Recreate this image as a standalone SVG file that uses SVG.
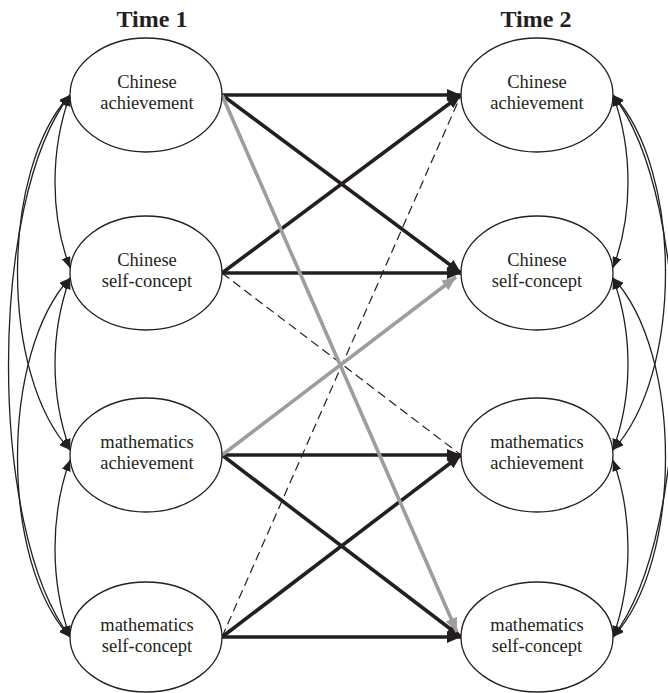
<svg xmlns="http://www.w3.org/2000/svg" width="668" height="693" viewBox="0 0 668 693">
<style>
.bg{fill:#fff}
.node ellipse{fill:#fff;stroke:#231f20;stroke-width:1.3}
.lbl{font-family:"Liberation Serif","Times New Roman",serif;font-size:18.5px;fill:#231f20;text-anchor:middle}
.title{font-family:"Liberation Serif","Times New Roman",serif;font-size:24px;font-weight:bold;fill:#231f20;text-anchor:middle}
.cov{fill:none;stroke:#231f20;stroke-width:1.3;marker-start:url(#ah);marker-end:url(#ah)}
.bold{stroke:#231f20;stroke-width:3.6;marker-end:url(#bh)}
.gray{stroke:#9d9d9d;stroke-width:3.6;marker-end:url(#gh)}
.dash{stroke:#231f20;stroke-width:1.2;stroke-dasharray:9 5}
</style>
<defs>
<marker id="ah" markerUnits="userSpaceOnUse" markerWidth="11" markerHeight="9" refX="11" refY="4.5" orient="auto-start-reverse" viewBox="0 0 11 9"><path d="M0,0 L11,4.5 L0,9 z" fill="#231f20"/></marker>
<marker id="bh" markerUnits="userSpaceOnUse" markerWidth="14" markerHeight="12" refX="14" refY="6" orient="auto" viewBox="0 0 14 12"><path d="M0,0 L14,6 L0,12 z" fill="#231f20"/></marker>
<marker id="gh" markerUnits="userSpaceOnUse" markerWidth="14" markerHeight="12" refX="14" refY="6" orient="auto" viewBox="0 0 14 12"><path d="M0,0 L14,6 L0,12 z" fill="#9d9d9d"/></marker>
</defs>
<rect class="bg" x="0" y="0" width="668" height="693"/>
<text class="title" x="152" y="27">Time 1</text>
<text class="title" x="536" y="27">Time 2</text>
<g id="connectors">
<path class="cov" d="M70,95 C50,150 50,215 70,268"/>
<path class="cov" d="M70,278 C50,333 50,395 70,450"/>
<path class="cov" d="M70,460 C50,515 50,582 70,637"/>
<path class="cov" d="M70,95 C0,170 0,375 70,450"/>
<path class="cov" d="M70,278 C0,353 0,562 70,637"/>
<path class="cov" d="M70,95 C-12,200 -12,530 70,637"/>
<path class="cov" d="M613,95 C633,150 633,215 613,268"/>
<path class="cov" d="M613,278 C633,333 633,395 613,450"/>
<path class="cov" d="M613,460 C633,515 633,582 613,637"/>
<path class="cov" d="M613,95 C683,170 683,375 613,450"/>
<path class="cov" d="M613,278 C683,353 683,562 613,637"/>
<path class="cov" d="M613,95 C695,200 695,530 613,637"/>
<line class="dash" x1="222" y1="273" x2="461" y2="455"/>
<line class="dash" x1="222" y1="637" x2="461" y2="95"/>
<line class="bold" x1="222" y1="95" x2="461" y2="95"/>
<line class="bold" x1="222" y1="95" x2="461" y2="273"/>
<line class="bold" x1="222" y1="273" x2="461" y2="95"/>
<line class="bold" x1="222" y1="273" x2="461" y2="273"/>
<line class="bold" x1="222" y1="455" x2="461" y2="455"/>
<line class="bold" x1="222" y1="455" x2="461" y2="637"/>
<line class="bold" x1="222" y1="637" x2="461" y2="455"/>
<line class="bold" x1="222" y1="637" x2="461" y2="637"/>
<line class="gray" x1="222" y1="95" x2="457" y2="632"/>
<line class="gray" x1="222" y1="455" x2="456" y2="277"/>
</g>
<g id="n1" class="node"><ellipse cx="146" cy="95" rx="76" ry="57"/><text class="lbl" x="147" y="88">Chinese</text><text class="lbl" x="147" y="109">achievement</text></g>
<g id="n2" class="node"><ellipse cx="146" cy="273" rx="76" ry="57"/><text class="lbl" x="147" y="266">Chinese</text><text class="lbl" x="147" y="287">self-concept</text></g>
<g id="n3" class="node"><ellipse cx="146" cy="455" rx="76" ry="57"/><text class="lbl" x="147" y="448">mathematics</text><text class="lbl" x="147" y="469">achievement</text></g>
<g id="n4" class="node"><ellipse cx="146" cy="637" rx="76" ry="55"/><text class="lbl" x="147" y="631">mathematics</text><text class="lbl" x="147" y="652">self-concept</text></g>
<g id="n5" class="node"><ellipse cx="537" cy="95" rx="76" ry="57"/><text class="lbl" x="537" y="88">Chinese</text><text class="lbl" x="537" y="109">achievement</text></g>
<g id="n6" class="node"><ellipse cx="537" cy="273" rx="76" ry="57"/><text class="lbl" x="537" y="266">Chinese</text><text class="lbl" x="537" y="287">self-concept</text></g>
<g id="n7" class="node"><ellipse cx="537" cy="455" rx="76" ry="57"/><text class="lbl" x="537" y="448">mathematics</text><text class="lbl" x="537" y="469">achievement</text></g>
<g id="n8" class="node"><ellipse cx="537" cy="637" rx="76" ry="55"/><text class="lbl" x="537" y="631">mathematics</text><text class="lbl" x="537" y="652">self-concept</text></g>
</svg>
